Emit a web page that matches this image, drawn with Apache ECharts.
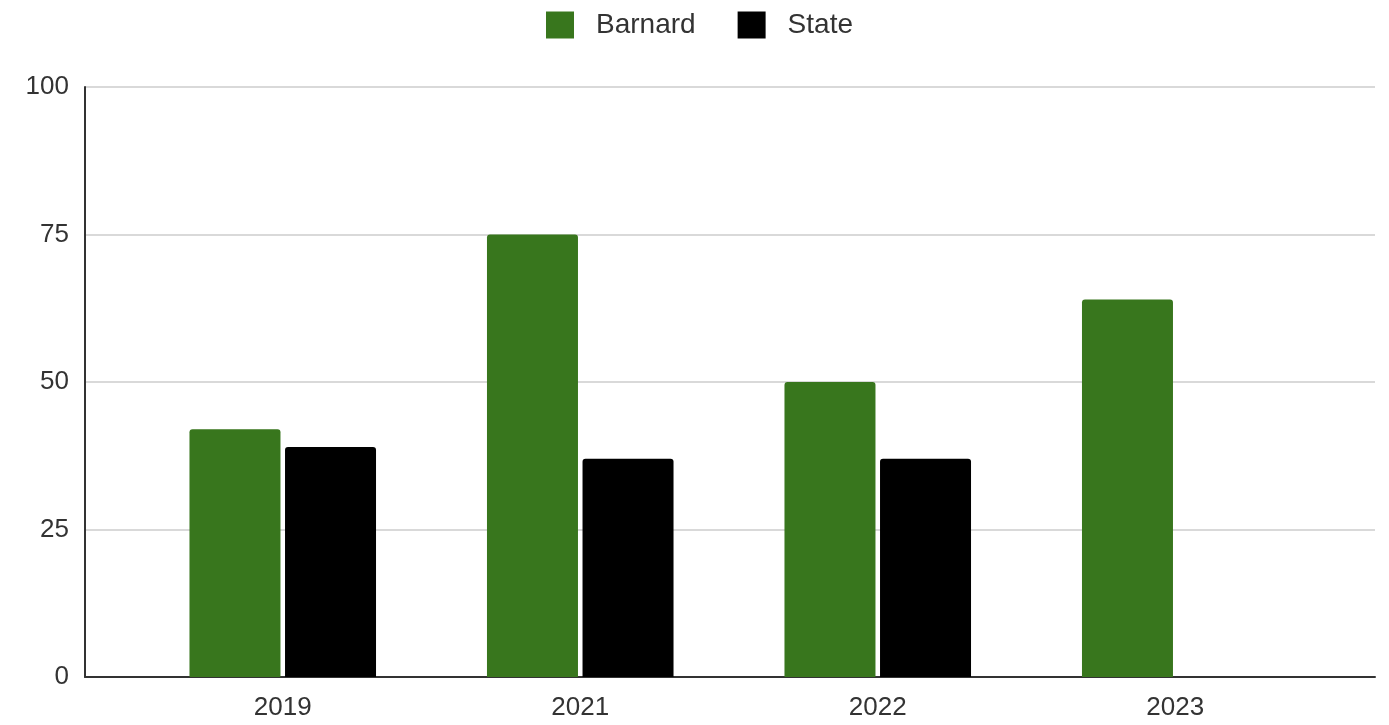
<!DOCTYPE html>
<html>
<head>
<meta charset="utf-8">
<script src="https://cdn.jsdelivr.net/npm/echarts@6/dist/echarts.min.js"></script>
<style>html,body{margin:0;padding:0;background:#fff;}#c{width:1389px;height:725px;}</style>
</head>
<body>
<div id="c"></div>
<script>
const categories = ['2019', '2021', '2022', '2023'];
const barnard = [42, 75, 50, 64];
const state = [39, 37, 37, null];
const yTicks = [0, 25, 50, 75, 100];

const chart = echarts.init(document.getElementById('c'));
const font = 'Liberation Sans, Arial, sans-serif';
chart.setOption({
  animation: false,
  textStyle: { fontFamily: font },
  legend: {
    top: 6,
    left: 541,
    icon: 'rect',
    itemWidth: 28,
    itemHeight: 27,
    itemGap: 42,
    textStyle: { fontSize: 28, color: '#333', fontFamily: font, padding: [0, 0, 0, 17] },
    data: ['Barnard', 'State']
  },
  grid: [
    { left: 85, right: 14, top: 87, bottom: 48 },
    { left: 134, right: 65, top: 87, bottom: 48 }
  ],
  xAxis: [
    { gridIndex: 0, type: 'category', data: categories, axisLine: { show: true, lineStyle: { color: '#333', width: 2 } }, axisTick: { show: false }, axisLabel: { show: false } },
    { gridIndex: 1, type: 'category', data: categories, axisLine: { show: false }, axisTick: { show: false },
      axisLabel: { fontSize: 26, color: '#333', margin: 18, fontFamily: font } }
  ],
  yAxis: [
    { gridIndex: 0, type: 'value', min: 0, max: 100, interval: 25,
      axisLine: { show: true, lineStyle: { color: '#333', width: 2 } },
      axisTick: { show: false },
      axisLabel: { fontSize: 26, color: '#333', margin: 16, fontFamily: font,
        formatter: v => yTicks.includes(v) ? String(v) : '' },
      splitLine: { lineStyle: { color: '#cccccc', width: 1.5 } } },
    { gridIndex: 1, type: 'value', min: 0, max: 100, interval: 25, show: false, splitLine: { show: false } }
  ],
  series: [
    { name: 'Barnard', type: 'bar', xAxisIndex: 1, yAxisIndex: 1, data: barnard, barWidth: 91, barGap: '5%',
      itemStyle: { color: '#38761d', borderRadius: [3, 3, 0, 0] } },
    { name: 'State', type: 'bar', xAxisIndex: 1, yAxisIndex: 1, data: state, barWidth: 91, barGap: '5%',
      itemStyle: { color: '#000000', borderRadius: [3, 3, 0, 0] } }
  ]
});
</script>
</body>
</html>
